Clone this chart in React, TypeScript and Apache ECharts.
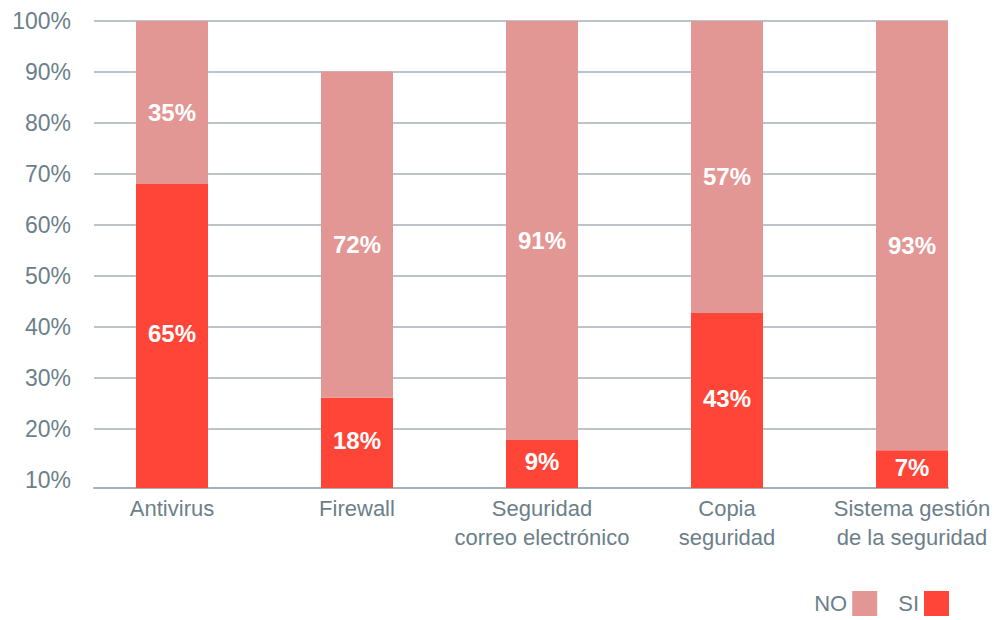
import React, { useEffect, useRef } from "react";
import * as echarts from "echarts";

// Categories (x axis)
const categories = [
  "Antivirus",
  "Firewall",
  "Seguridad\ncorreo electrónico",
  "Copia\nseguridad",
  "Sistema gestión\nde la seguridad",
];
// Bar segment heights (share of the full bar)
const siValues = [65.1, 19.3, 10.3, 37.5, 8.1];
const noValues = [34.9, 69.9, 89.7, 62.5, 91.9];
// Printed labels on the bars
const siLabels = ["65%", "18%", "9%", "43%", "7%"];
const noLabels = ["35%", "72%", "91%", "57%", "93%"];
// Tick labels of the percentage axis
const tickValues = [10, 20, 30, 40, 50, 60, 70, 80, 90, 100];
const legendNames = ["NO", "SI"];

const SI_COLOR = "#FF4538";
const NO_COLOR = "#E39795";
const GRID_COLOR = "#A6B1B7";
const TEXT_COLOR = "#6C7F89";
const FONT = "'Liberation Sans', Arial, sans-serif";

export default function App() {
  const ref = useRef<HTMLDivElement>(null);

  useEffect(() => {
    if (!ref.current) return;
    const chart = echarts.init(ref.current, undefined, { renderer: "svg" });
    const splitColors = tickValues.map((v, i) => (i === 0 ? "rgba(0,0,0,0)" : GRID_COLOR));
    const barLabel = (labels: string[], dy: number) => ({
      show: true,
      position: "inside",
      offset: [0, dy],
      formatter: (p: any) => labels[p.dataIndex],
      color: "#ffffff",
      fontWeight: "bold",
      fontSize: 24,
      fontFamily: FONT,
      textBorderWidth: 0,
    });
    chart.setOption({
      animation: false,
      backgroundColor: "#ffffff",
      textStyle: { fontFamily: FONT },
      grid: [
        // gridlines, percentage labels and base line
        { left: 94, right: 46, top: 21, bottom: 132, containLabel: false },
        // bars and category labels (categories sit on the grid edges)
        { left: 172, right: 82, top: 21, bottom: 132, containLabel: false },
      ],
      legend: {
        data: legendNames,
        right: 45,
        top: 591,
        padding: 0,
        align: "right",
        icon: "rect",
        itemWidth: 25,
        itemHeight: 25,
        itemGap: 21,
        textStyle: { fontSize: 22, color: TEXT_COLOR, fontFamily: FONT },
      },
      xAxis: [
        {
          type: "value",
          gridIndex: 0,
          min: 0,
          max: 1,
          axisLine: { show: true, onZero: false, lineStyle: { color: GRID_COLOR, width: 2 } },
          axisTick: { show: false },
          splitLine: { show: false },
          axisLabel: { show: false },
        },
        {
          type: "category",
          gridIndex: 1,
          data: categories,
          boundaryGap: false,
          axisLine: { show: false },
          axisTick: { show: false },
          splitLine: { show: false },
          axisLabel: {
            interval: 0,
            color: TEXT_COLOR,
            fontSize: 22,
            lineHeight: 29,
            margin: 6,
            fontFamily: FONT,
          },
        },
      ],
      yAxis: [
        {
          type: "value",
          gridIndex: 0,
          min: 8.4,
          max: 100,
          splitNumber: 9,
          minInterval: 10,
          maxInterval: 10,
          axisLine: { show: false },
          axisTick: { show: false },
          axisLabel: {
            showMinLabel: false,
            formatter: (v: number) => (tickValues.includes(Math.round(v)) ? `${Math.round(v)}%` : ""),
            color: TEXT_COLOR,
            fontSize: 23,
            margin: 23,
            fontFamily: FONT,
          },
          splitLine: {
            show: true,
            showMinLine: false,
            lineStyle: { color: splitColors, width: 1.5 },
          },
        },
        {
          type: "value",
          gridIndex: 1,
          min: 0,
          max: 100,
          show: false,
        },
      ],
      series: [
        {
          name: "SI",
          type: "bar",
          stack: "total",
          xAxisIndex: 1,
          yAxisIndex: 1,
          barWidth: 72,
          itemStyle: { color: SI_COLOR },
          data: siValues,
          label: barLabel(siLabels, -2),
        },
        {
          name: "NO",
          type: "bar",
          stack: "total",
          xAxisIndex: 1,
          yAxisIndex: 1,
          barWidth: 72,
          itemStyle: { color: NO_COLOR },
          data: noValues,
          label: barLabel(noLabels, 10),
        },
      ],
    });
    return () => chart.dispose();
  }, []);

  return (
    <div
      ref={ref}
      style={{ position: "absolute", left: 0, top: 0, width: 994, height: 620 }}
    />
  );
}
